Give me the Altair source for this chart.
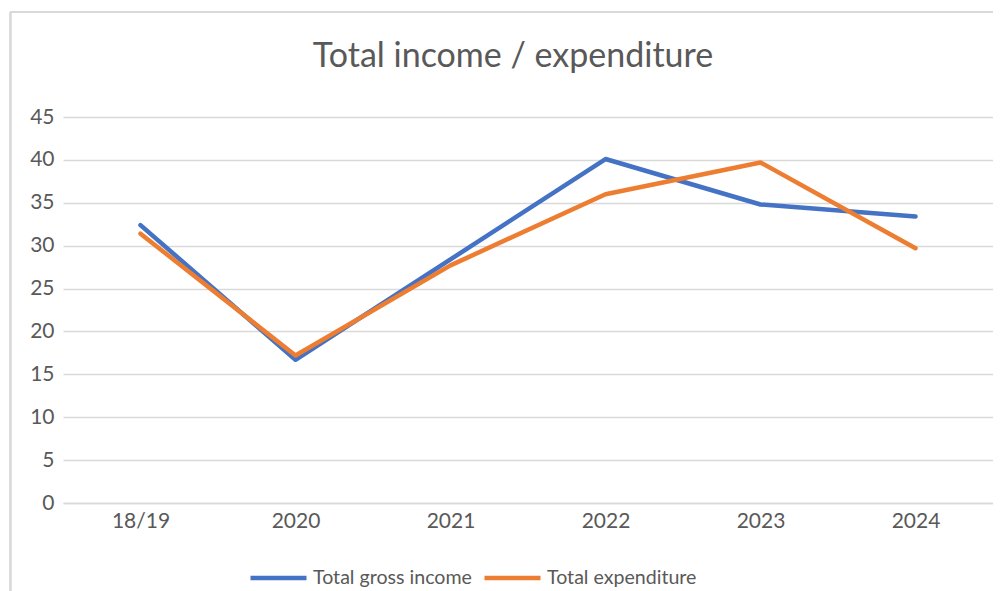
import altair as alt
import pandas as pd

categories = ["18/19", "2020", "2021", "2022", "2023", "2024"]
income = [32.4, 16.7, 28.4, 40.1, 34.8, 33.4]
expenditure = [31.4, 17.2, 27.7, 36.0, 39.7, 29.7]
series_names = ["Total gross income", "Total expenditure"]
colors = ["#4472C4", "#ED7D31"]
y_ticks = [0, 5, 10, 15, 20, 25, 30, 35, 40, 45]

rows = []
for c, v in zip(categories, income):
    rows.append({"cat": c, "value": v, "series": series_names[0]})
for c, v in zip(categories, expenditure):
    rows.append({"cat": c, "value": v, "series": series_names[1]})
df = pd.DataFrame(rows)

FONT = "Lato"
TXT = "#595959"

lines = alt.Chart(df).mark_line(strokeWidth=4.5, strokeCap="round", strokeJoin="round").encode(
    x=alt.X("cat:N", sort=categories,
            scale=alt.Scale(type="point", padding=0.5),
            axis=alt.Axis(title=None, labelAngle=0, ticks=False, domain=True,
                          domainColor="#d9d9d9", domainWidth=1.3, grid=False,
                          labelFont=FONT, labelFontSize=21, labelColor=TXT,
                          labelPadding=7)),
    y=alt.Y("value:Q", scale=alt.Scale(domain=[0, 45], nice=False),
            axis=alt.Axis(title=None, values=y_ticks, ticks=False, domain=False,
                          gridColor="#d9d9d9", gridWidth=1.3,
                          labelFont=FONT, labelFontSize=21, labelColor=TXT,
                          labelPadding=9)),
    color=alt.Color("series:N", sort=series_names,
                    scale=alt.Scale(domain=series_names, range=colors),
                    legend=alt.Legend(title=None, orient="none", legendX=185, legendY=430,
                                      direction="horizontal", columns=2,
                                      symbolType="stroke", symbolStrokeWidth=4.5,
                                      symbolSize=3136, labelFont=FONT, labelFontSize=19.6,
                                      labelColor=TXT, labelOffset=4, columnPadding=3,
                                      labelLimit=400, symbolOffset=0)),
)

border_v = alt.Chart(df).mark_rule(color="#d9d9d9", strokeWidth=1.3, clip=False).encode(
    x=alt.value(-52.5), y=alt.value(-105), y2=alt.value(600))
border_h = alt.Chart(df).mark_rule(color="#d9d9d9", strokeWidth=1.3, clip=False).encode(
    x=alt.value(-52.5), x2=alt.value(1000), y=alt.value(-105))

chart = alt.layer(border_v, border_h, lines).properties(
    width=930, height=386,
    title=alt.TitleParams("Total income / expenditure", font=FONT, fontSize=34,
                          fontWeight="normal", color=TXT, anchor="middle", dx=-15,
                          offset=0, baseline="alphabetic", dy=90),
    autosize=alt.AutoSizeParams(type="none"),
    padding={"left": 55, "top": 109, "right": 0, "bottom": 88},
).configure_view(stroke=None)

chart.save("out.html", embed_options={"renderer": "svg", "actions": False})
